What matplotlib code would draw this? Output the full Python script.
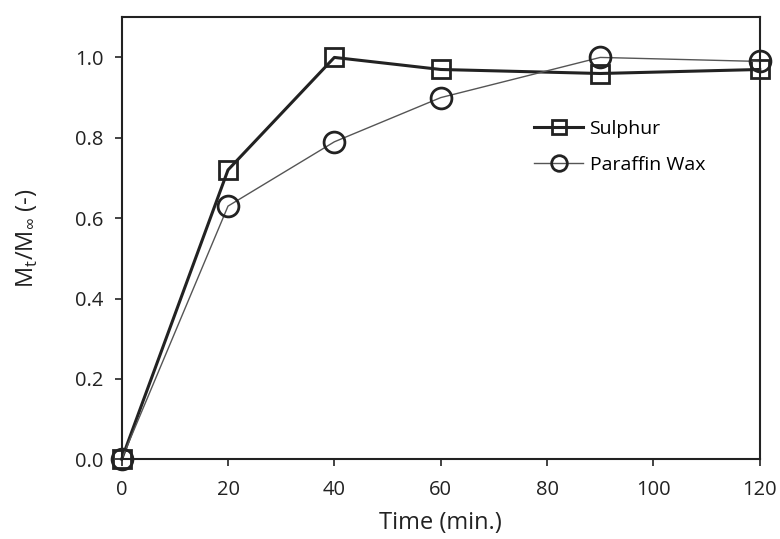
import matplotlib.pyplot as plt

time_min = [0, 20, 40, 60, 90, 120]
sulphur = [0.0, 0.72, 1.0, 0.97, 0.96, 0.97]
paraffin = [0.0, 0.63, 0.79, 0.90, 1.0, 0.99]

plt.rcParams['font.family'] = ['Open Sans', 'DejaVu Sans']

fig = plt.figure(figsize=(7.8, 5.39), dpi=100)
ax = fig.add_axes([0.156, 0.148, 0.818, 0.82])

ax.plot(time_min, sulphur, color='#222222', lw=2.2, marker='s', ms=13,
        mfc='none', mec='#222222', mew=2.0, label='Sulphur', clip_on=False)
ax.plot(time_min, paraffin, color='#555555', lw=1.0, marker='o', ms=15,
        mfc='none', mec='#222222', mew=2.0, label='Paraffin Wax', clip_on=False)

ax.set_xlim(0, 120)
ax.set_ylim(0, 1.1)
ax.set_xticks(range(0, 121, 20))
ax.set_yticks([0.0, 0.2, 0.4, 0.6, 0.8, 1.0])
ax.set_yticklabels(['0.0', '0.2', '0.4', '0.6', '0.8', '1.0'])
ax.tick_params(direction='out', length=5, width=1.2, labelsize=14.5,
               colors='#222222', pad=8)
ax.tick_params(axis='x', pad=10)
for s in ax.spines.values():
    s.set_linewidth(1.5)
    s.set_color('#222222')

ax.set_xlabel('Time (min.)', fontsize=17, color='#222222', labelpad=8)
ax.set_ylabel(r'M$_\mathregular{t}$/M$_\mathregular{\infty}$ (-)', fontsize=17,
              color='#222222', labelpad=25)

ax.legend(loc='center left', bbox_to_anchor=(0.647, 0.707), frameon=False,
          fontsize=14, handlelength=2.47, handletextpad=0.36, markerscale=0.75,
          labelspacing=0.95, borderpad=0, borderaxespad=0)

fig.savefig('out.png', dpi=100)
